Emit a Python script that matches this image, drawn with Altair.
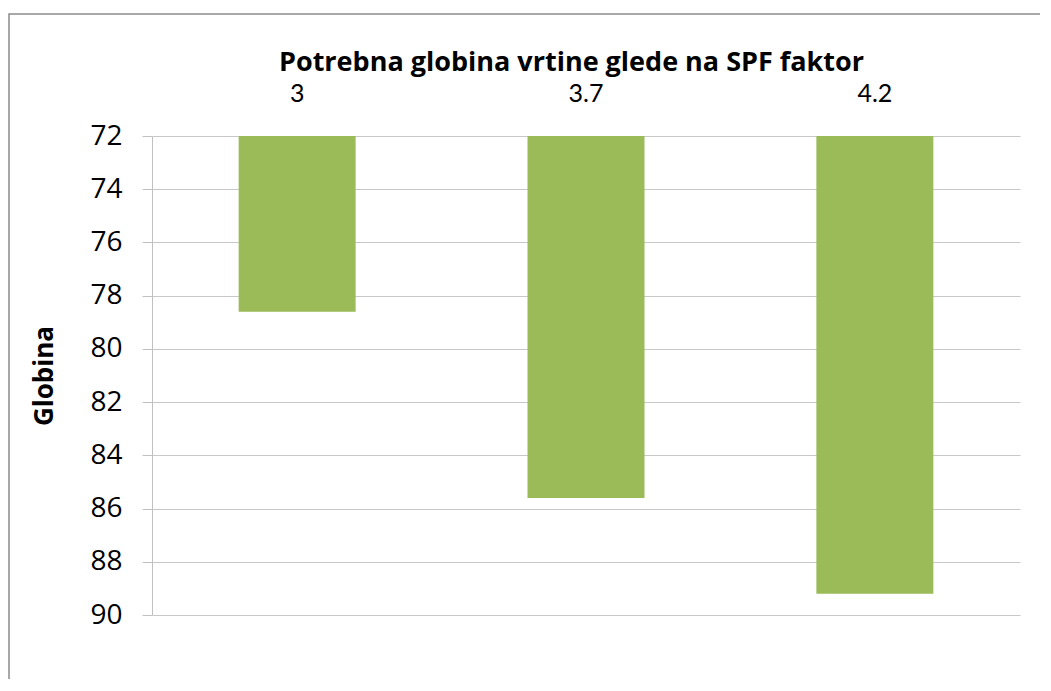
import altair as alt
import pandas as pd

categories = ["3", "3.7", "4.2"]
depths = [78.6, 85.6, 89.2]
y_ticks = [72, 74, 76, 78, 80, 82, 84, 86, 88, 90]

df = pd.DataFrame({"spf": categories, "depth": depths})

bars = alt.Chart(df).mark_bar(color="#9BBB59").encode(
    x=alt.X(
        "spf:N",
        sort=categories,
        scale=alt.Scale(paddingInner=0.595, paddingOuter=0.3),
        axis=alt.Axis(
            orient="top",
            title="Potrebna globina vrtine glede na SPF faktor",
            titleFont="Open Sans",
            titleFontSize=27,
            titleFontWeight="bold",
            titleColor="#000000",
            titlePadding=5,
            titleX=419,
            titleAlign="center",
            labelFont="Lato",
            labelFontSize=25,
            labelColor="#000000",
            labelAngle=0,
            labelPadding=30,
            ticks=False,
            domain=False,
        ),
    ),
    y=alt.Y(
        "depth:Q",
        scale=alt.Scale(domain=[72, 90], reverse=True, zero=False, nice=False),
        axis=alt.Axis(
            values=y_ticks,
            title="Globina",
            titleFont="Open Sans",
            titleFontSize=26,
            titleFontWeight="bold",
            titleColor="#000000",
            titlePadding=32,
            labelFont="Open Sans",
            labelFontSize=28,
            labelColor="#000000",
            labelPadding=20,
            tickSize=10,
            tickColor="#C0C0C0",
            domainColor="#C0C0C0",
            gridColor="#C8C8C8",
            gridWidth=1.2,
        ),
    ),
    y2=alt.datum(72),
)

frame = alt.Chart(pd.DataFrame({"a": [0]})).mark_rect(
    fill=None, stroke="#8C8C8C", strokeWidth=1.5
).encode(
    x=alt.value(-143), x2=alt.value(920),
    y=alt.value(-122), y2=alt.value(620),
)

chart = alt.layer(frame, bars).properties(
    width=868,
    height=479,
    padding={"left": 144, "top": 128, "right": 20, "bottom": 64},
    autosize=alt.AutoSizeParams(type="none"),
    background="#FFFFFF",
).configure_view(stroke=None)

chart.save("out.html", embed_options={"renderer": "svg", "actions": False})
